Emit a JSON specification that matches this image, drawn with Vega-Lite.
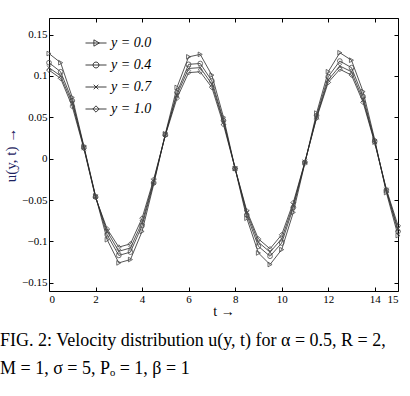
{
  "$schema": "https://vega.github.io/schema/vega-lite/v6.json",
  "width": 349,
  "height": 273,
  "autosize": "none",
  "padding": {"left": 49, "top": 18, "right": 12, "bottom": 105},
  "background": "white",
  "config": {
    "font": "Liberation Serif",
    "view": {"stroke": "black", "strokeWidth": 1},
    "axis": {
      "domain": false,
      "grid": false,
      "tickColor": "black",
      "tickSize": -4,
      "tickWidth": 1,
      "labelFont": "Liberation Serif",
      "labelFontSize": 11,
      "labelColor": "black",
      "titleFont": "Liberation Serif",
      "titleFontSize": 15,
      "titleFontWeight": "normal",
      "titleColor": "black"
    }
  },
  "title": {
    "text": "FIG. 2: Velocity distribution u(y, t) for α = 0.5, R = 2,",
    "subtitle": "M = 1, σ = 5, Pₒ = 1, β = 1",
    "orient": "bottom",
    "anchor": "start",
    "frame": "group",
    "dx": -49,
    "offset": 14,
    "font": "Liberation Serif",
    "fontSize": 18,
    "fontWeight": "normal",
    "color": "black",
    "subtitleFont": "Liberation Serif",
    "subtitleFontSize": 18,
    "subtitleColor": "black",
    "subtitlePadding": 10
  },
  "data": {
    "values": [
      {"t": 0, "u": 0.127, "s": "y = 0.0"}, {"t": 0, "u": 0.116, "s": "y = 0.4"}, {"t": 0, "u": 0.110, "s": "y = 0.7"}, {"t": 0, "u": 0.107, "s": "y = 1.0"},
      {"t": 0.5, "u": 0.116, "s": "y = 0.0"}, {"t": 0.5, "u": 0.105, "s": "y = 0.4"}, {"t": 0.5, "u": 0.100, "s": "y = 0.7"}, {"t": 0.5, "u": 0.097, "s": "y = 1.0"},
      {"t": 1, "u": 0.074, "s": "y = 0.0"}, {"t": 1, "u": 0.070, "s": "y = 0.4"}, {"t": 1, "u": 0.067, "s": "y = 0.7"}, {"t": 1, "u": 0.063, "s": "y = 1.0"},
      {"t": 1.5, "u": 0.015, "s": "y = 0.0"}, {"t": 1.5, "u": 0.014, "s": "y = 0.4"}, {"t": 1.5, "u": 0.013, "s": "y = 0.7"}, {"t": 1.5, "u": 0.012, "s": "y = 1.0"},
      {"t": 2, "u": -0.045, "s": "y = 0.0"}, {"t": 2, "u": -0.046, "s": "y = 0.4"}, {"t": 2, "u": -0.046, "s": "y = 0.7"}, {"t": 2, "u": -0.047, "s": "y = 1.0"},
      {"t": 2.5, "u": -0.098, "s": "y = 0.0"}, {"t": 2.5, "u": -0.092, "s": "y = 0.4"}, {"t": 2.5, "u": -0.088, "s": "y = 0.7"}, {"t": 2.5, "u": -0.085, "s": "y = 1.0"},
      {"t": 3, "u": -0.126, "s": "y = 0.0"}, {"t": 3, "u": -0.117, "s": "y = 0.4"}, {"t": 3, "u": -0.112, "s": "y = 0.7"}, {"t": 3, "u": -0.107, "s": "y = 1.0"},
      {"t": 3.5, "u": -0.122, "s": "y = 0.0"}, {"t": 3.5, "u": -0.113, "s": "y = 0.4"}, {"t": 3.5, "u": -0.108, "s": "y = 0.7"}, {"t": 3.5, "u": -0.103, "s": "y = 1.0"},
      {"t": 4, "u": -0.088, "s": "y = 0.0"}, {"t": 4, "u": -0.081, "s": "y = 0.4"}, {"t": 4, "u": -0.077, "s": "y = 0.7"}, {"t": 4, "u": -0.072, "s": "y = 1.0"},
      {"t": 4.5, "u": -0.031, "s": "y = 0.0"}, {"t": 4.5, "u": -0.029, "s": "y = 0.4"}, {"t": 4.5, "u": -0.027, "s": "y = 0.7"}, {"t": 4.5, "u": -0.025, "s": "y = 1.0"},
      {"t": 5, "u": 0.030, "s": "y = 0.0"}, {"t": 5, "u": 0.029, "s": "y = 0.4"}, {"t": 5, "u": 0.029, "s": "y = 0.7"}, {"t": 5, "u": 0.028, "s": "y = 1.0"},
      {"t": 5.5, "u": 0.086, "s": "y = 0.0"}, {"t": 5.5, "u": 0.080, "s": "y = 0.4"}, {"t": 5.5, "u": 0.077, "s": "y = 0.7"}, {"t": 5.5, "u": 0.073, "s": "y = 1.0"},
      {"t": 6, "u": 0.123, "s": "y = 0.0"}, {"t": 6, "u": 0.114, "s": "y = 0.4"}, {"t": 6, "u": 0.109, "s": "y = 0.7"}, {"t": 6, "u": 0.104, "s": "y = 1.0"},
      {"t": 6.5, "u": 0.126, "s": "y = 0.0"}, {"t": 6.5, "u": 0.115, "s": "y = 0.4"}, {"t": 6.5, "u": 0.110, "s": "y = 0.7"}, {"t": 6.5, "u": 0.105, "s": "y = 1.0"},
      {"t": 7, "u": 0.101, "s": "y = 0.0"}, {"t": 7, "u": 0.094, "s": "y = 0.4"}, {"t": 7, "u": 0.090, "s": "y = 0.7"}, {"t": 7, "u": 0.086, "s": "y = 1.0"},
      {"t": 7.5, "u": 0.050, "s": "y = 0.0"}, {"t": 7.5, "u": 0.046, "s": "y = 0.4"}, {"t": 7.5, "u": 0.044, "s": "y = 0.7"}, {"t": 7.5, "u": 0.041, "s": "y = 1.0"},
      {"t": 8, "u": -0.012, "s": "y = 0.0"}, {"t": 8, "u": -0.012, "s": "y = 0.4"}, {"t": 8, "u": -0.012, "s": "y = 0.7"}, {"t": 8, "u": -0.012, "s": "y = 1.0"},
      {"t": 8.5, "u": -0.072, "s": "y = 0.0"}, {"t": 8.5, "u": -0.068, "s": "y = 0.4"}, {"t": 8.5, "u": -0.065, "s": "y = 0.7"}, {"t": 8.5, "u": -0.063, "s": "y = 1.0"},
      {"t": 9, "u": -0.114, "s": "y = 0.0"}, {"t": 9, "u": -0.106, "s": "y = 0.4"}, {"t": 9, "u": -0.101, "s": "y = 0.7"}, {"t": 9, "u": -0.097, "s": "y = 1.0"},
      {"t": 9.5, "u": -0.128, "s": "y = 0.0"}, {"t": 9.5, "u": -0.118, "s": "y = 0.4"}, {"t": 9.5, "u": -0.113, "s": "y = 0.7"}, {"t": 9.5, "u": -0.109, "s": "y = 1.0"},
      {"t": 10, "u": -0.110, "s": "y = 0.0"}, {"t": 10, "u": -0.102, "s": "y = 0.4"}, {"t": 10, "u": -0.097, "s": "y = 0.7"}, {"t": 10, "u": -0.092, "s": "y = 1.0"},
      {"t": 10.5, "u": -0.065, "s": "y = 0.0"}, {"t": 10.5, "u": -0.059, "s": "y = 0.4"}, {"t": 10.5, "u": -0.056, "s": "y = 0.7"}, {"t": 10.5, "u": -0.053, "s": "y = 1.0"},
      {"t": 11, "u": -0.005, "s": "y = 0.0"}, {"t": 11, "u": -0.005, "s": "y = 0.4"}, {"t": 11, "u": -0.004, "s": "y = 0.7"}, {"t": 11, "u": -0.004, "s": "y = 1.0"},
      {"t": 11.5, "u": 0.055, "s": "y = 0.0"}, {"t": 11.5, "u": 0.052, "s": "y = 0.4"}, {"t": 11.5, "u": 0.050, "s": "y = 0.7"}, {"t": 11.5, "u": 0.049, "s": "y = 1.0"},
      {"t": 12, "u": 0.105, "s": "y = 0.0"}, {"t": 12, "u": 0.099, "s": "y = 0.4"}, {"t": 12, "u": 0.095, "s": "y = 0.7"}, {"t": 12, "u": 0.092, "s": "y = 1.0"},
      {"t": 12.5, "u": 0.128, "s": "y = 0.0"}, {"t": 12.5, "u": 0.118, "s": "y = 0.4"}, {"t": 12.5, "u": 0.112, "s": "y = 0.7"}, {"t": 12.5, "u": 0.108, "s": "y = 1.0"},
      {"t": 13, "u": 0.119, "s": "y = 0.0"}, {"t": 13, "u": 0.110, "s": "y = 0.4"}, {"t": 13, "u": 0.105, "s": "y = 0.7"}, {"t": 13, "u": 0.101, "s": "y = 1.0"},
      {"t": 13.5, "u": 0.081, "s": "y = 0.0"}, {"t": 13.5, "u": 0.075, "s": "y = 0.4"}, {"t": 13.5, "u": 0.071, "s": "y = 0.7"}, {"t": 13.5, "u": 0.068, "s": "y = 1.0"},
      {"t": 14, "u": 0.023, "s": "y = 0.0"}, {"t": 14, "u": 0.021, "s": "y = 0.4"}, {"t": 14, "u": 0.020, "s": "y = 0.7"}, {"t": 14, "u": 0.019, "s": "y = 1.0"},
      {"t": 14.5, "u": -0.041, "s": "y = 0.0"}, {"t": 14.5, "u": -0.039, "s": "y = 0.4"}, {"t": 14.5, "u": -0.038, "s": "y = 0.7"}, {"t": 14.5, "u": -0.037, "s": "y = 1.0"},
      {"t": 15, "u": -0.093, "s": "y = 0.0"}, {"t": 15, "u": -0.088, "s": "y = 0.4"}, {"t": 15, "u": -0.085, "s": "y = 0.7"}, {"t": 15, "u": -0.081, "s": "y = 1.0"}
    ]
  },
  "layer": [
    {
      "mark": {"type": "line", "color": "#2a2a2a", "strokeWidth": 0.8},
      "encoding": {
        "x": {"field": "t", "type": "quantitative", "scale": {"domain": [0, 15], "nice": false, "zero": false},
              "axis": {"values": [0, 2, 4, 6, 8, 10, 12, 14, 15], "title": "t →", "titleFontSize": 14, "labelFont": "Liberation Serif", "labelPadding": 6, "titlePadding": 0}},
        "y": {"field": "u", "type": "quantitative", "scale": {"domain": [-0.16, 0.17], "nice": false, "zero": false},
              "axis": {"values": [-0.15, -0.1, -0.05, 0, 0.05, 0.1, 0.15], "format": "~g", "title": "u(y, t) →", "titleColor": "#1c2160", "labelFont": "Liberation Serif", "labelPadding": 6, "titlePadding": 3}},
        "detail": {"field": "s", "type": "nominal"}
      }
    },
    {
      "mark": {"type": "point", "filled": false, "color": "#4a4a4a", "strokeWidth": 0.8, "size": 22, "opacity": 1},
      "encoding": {
        "x": {"field": "t", "type": "quantitative",
              "axis": {"orient": "top", "labels": false, "title": null, "values": [0, 2, 4, 6, 8, 10, 12, 14, 15]}},
        "y": {"field": "u", "type": "quantitative",
              "axis": {"orient": "right", "labels": false, "title": null, "values": [-0.15, -0.1, -0.05, 0, 0.05, 0.1, 0.15]}},
        "shape": {
          "field": "s", "type": "nominal",
          "scale": {"domain": ["y = 0.0", "y = 0.4", "y = 0.7", "y = 1.0"],
                    "range": ["triangle-right", "circle", "M-1,-1L1,1M-1,1L1,-1", "diamond"]},
          "legend": null
        }
      }
    },
    {
      "transform": [{"filter": "datum.t < -1"}],
      "mark": {"type": "point", "filled": false, "color": "#2a2a2a", "strokeWidth": 0.9, "opacity": 1},
      "encoding": {
        "x": {"field": "t", "type": "quantitative", "axis": null},
        "y": {"field": "u", "type": "quantitative", "axis": null},
        "shape": {
          "field": "s", "type": "nominal",
          "scale": {"domain": ["y = 0.0", "y = 0.4", "y = 0.7", "y = 1.0"],
                    "range": ["M-1,0L1,0M-0.2,-0.3L0.32,0L-0.2,0.3Z", "M-1,0L1,0M0.28,0A0.28,0.28 0 1,1 -0.28,0A0.28,0.28 0 1,1 0.28,0", "M-1,0L1,0M-0.22,-0.22L0.22,0.22M-0.22,0.22L0.22,-0.22", "M-1,0L1,0M0,-0.3L0.3,0L0,0.3L-0.3,0Z"]},
          "legend": {
            "title": null,
            "orient": "none",
            "legendX": 36,
            "legendY": 14,
            "padding": 0,
            "symbolSize": 441,
            "symbolStrokeColor": "#2a2a2a",
            "symbolFillColor": "transparent",
            "symbolStrokeWidth": 0.9,
            "symbolOpacity": 1,
            "labelFont": "Liberation Serif",
            "labelFontStyle": "italic",
            "labelFontSize": 14,
            "labelColor": "black",
            "labelOffset": 4,
            "rowPadding": 4
          }
        }
      }
    }
  ],
  "resolve": {"axis": {"x": "independent", "y": "independent"}, "scale": {"shape": "independent"}}
}
